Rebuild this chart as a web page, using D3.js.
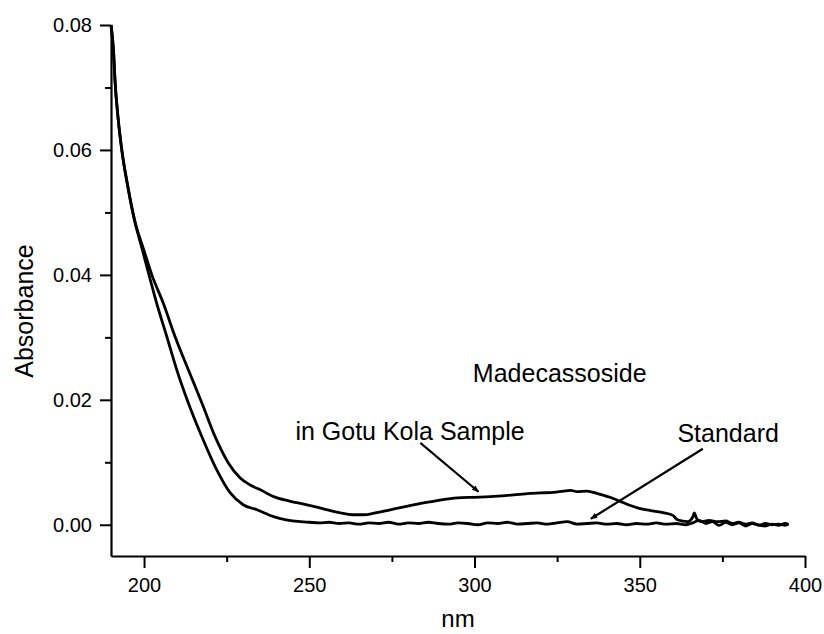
<!DOCTYPE html>
<html>
<head>
<meta charset="utf-8">
<script src="https://cdn.jsdelivr.net/npm/d3@7"></script>
<style>
  body { margin: 0; background: #fff; }
  text { font-family: "Liberation Sans", Arial, sans-serif; fill: #000; }
</style>
</head>
<body>
<div id="chart"></div>
<script>
// wavelength (nm) / absorbance readings, sample extract
var sampleNm = [190, 190.8, 191.2, 192.2, 193.4, 195.1, 197.1, 199.8, 202.5, 205.8,
  209.4, 213.4, 217.5, 221.5, 225.5, 229.1, 232, 235.2, 239.2, 244,
  249.3, 254, 259.4, 263, 266.5, 270, 274.5, 279, 284.6, 290,
  294.8, 300, 304.8, 310, 316, 320, 324, 327, 329.1, 331,
  334, 337.2, 341, 344.2, 349.3, 353, 357.4, 360, 361.4, 364.5,
  366, 366.5, 367.2, 368.5, 371, 373.5, 376, 378, 380, 382,
  384, 386, 388, 390, 392, 394, 395];
var sampleAbs = [0.0800, 0.0755, 0.0712, 0.0648, 0.0595, 0.0541, 0.0488, 0.0442, 0.0398, 0.0355,
  0.0301, 0.0248, 0.0195, 0.0141, 0.0099, 0.0075, 0.0064, 0.0056, 0.0045, 0.0038,
  0.0032, 0.0026, 0.0019, 0.0016, 0.0016, 0.0019, 0.0024, 0.0029, 0.0035, 0.0040,
  0.0043, 0.0044, 0.0045, 0.0047, 0.0050, 0.0051, 0.0052, 0.0054, 0.0055, 0.0053,
  0.0054, 0.0050, 0.0044, 0.0037, 0.0027, 0.0023, 0.0019, 0.0015, 0.0008, 0.0005,
  0.0012, 0.0019, 0.0010, 0.0005, 0.0007, 0.0005, 0.0006, 0.0002, 0.0004, 0.0001,
  0.0003, -0.0001, 0.0002, 0.0000, 0.0001, -0.0001, 0.0001];

// madecassoside standard
var standardNm = [190, 190.8, 191.2, 192.2, 193.4, 195.1, 197.1, 199.5, 202, 203.8,
  206.9, 209.9, 213.4, 217.5, 222, 226.1, 230, 234.2, 239.2, 243,
  247.3, 250, 253, 256, 259, 262, 265, 268, 271, 274,
  277, 280, 283, 286, 289, 292, 295, 298, 301, 304,
  307, 310, 313, 316, 319, 322, 325, 328, 331, 334,
  337, 340, 343, 346, 349, 352, 355, 358, 361, 364,
  366, 368, 370, 372, 374, 376, 378, 380, 382, 384,
  386, 388, 390, 392, 394, 395];
var standardAbs = [0.0800, 0.0755, 0.0712, 0.0648, 0.0595, 0.0541, 0.0488, 0.0440, 0.0390, 0.0355,
  0.0301, 0.0248, 0.0195, 0.0141, 0.0088, 0.0051, 0.0032, 0.0024, 0.0013, 0.0008,
  0.0005, 0.0004, 0.0003, 0.0004, 0.0002, 0.0003, 0.0001, 0.0003, 0.0002, 0.0004,
  0.0001, 0.0003, 0.0002, 0.0004, 0.0002, 0.0001, 0.0003, 0.0002, 0.0000, 0.0003,
  0.0002, 0.0004, 0.0001, 0.0002, 0.0003, 0.0001, 0.0003, 0.0005, 0.0001, 0.0002,
  0.0003, 0.0001, 0.0002, 0.0000, 0.0002, 0.0001, 0.0003, 0.0001, 0.0002, 0.0000,
  0.0003, 0.0007, 0.0002, 0.0005, -0.0001, 0.0004, 0.0000, 0.0003, -0.0002, 0.0002,
  0.0000, -0.0002, 0.0001, -0.0001, 0.0002, 0.0000];

var xTicks = [200, 250, 300, 350, 400];
var xMinorTicks = [225, 275, 325, 375];
var yTicks = [0.00, 0.02, 0.04, 0.06, 0.08];
var yMinorTicks = [0.01, 0.03, 0.05, 0.07];

// labels: text, anchor point (nm, abs)
var labelTexts = ['Madecassoside', 'in Gotu Kola Sample', 'Standard'];
var labelNm = [299.5, 245.8, 361.4];
var labelAbs = [0.0229, 0.0136, 0.01328];

// arrows: from (nm, abs) to (nm, abs)
var arrowFromNm = [283.6, 369.1];
var arrowFromAbs = [0.01312, 0.01216];
var arrowToNm = [301.2, 335.2];
var arrowToAbs = [0.00528, 0.00096];

function drawChart(divId) {
  var width = 824, height = 634;
  var margin = {left: 111, top: 25, right: 19, bottom: 78};

  var svg = d3.select(divId)
    .append('svg')
    .attr('width', width)
    .attr('height', height);

  var x = d3.scaleLinear().domain([190, 400]).range([margin.left, width - margin.right]);
  var y = d3.scaleLinear().domain([-0.005, 0.08]).range([height - margin.bottom, margin.top]);

  svg.append('defs').append('marker')
    .attr('id', 'head')
    .attr('viewBox', '0 0 10 10')
    .attr('refX', 9).attr('refY', 5)
    .attr('markerWidth', 9).attr('markerHeight', 7)
    .attr('markerUnits', 'userSpaceOnUse')
    .attr('orient', 'auto')
    .append('path')
    .attr('d', 'M0,1 L10,5 L0,9 Z')
    .attr('fill', '#000');

  // minor ticks first, major axes on top
  svg.append('g')
    .attr('transform', `translate(0,${y.range()[0]})`)
    .call(d3.axisBottom(x).tickValues(xMinorTicks).tickSize(6).tickFormat(''))
    .call(g => g.select('.domain').remove());
  svg.append('g')
    .attr('transform', `translate(${margin.left},0)`)
    .call(d3.axisLeft(y).tickValues(yMinorTicks).tickSize(6).tickFormat(''))
    .call(g => g.select('.domain').remove());

  svg.append('g')
    .attr('transform', `translate(0,${y.range()[0]})`)
    .call(d3.axisBottom(x).tickValues(xTicks).tickSize(12).tickSizeOuter(0).tickPadding(10)
      .tickFormat(d3.format('d')));
  svg.append('g')
    .attr('transform', `translate(${margin.left},0)`)
    .call(d3.axisLeft(y).tickValues(yTicks).tickSize(11).tickSizeOuter(0).tickPadding(8)
      .tickFormat(d3.format('.2f')));

  svg.selectAll('.tick line').attr('stroke', '#000').attr('stroke-width', 2);
  svg.selectAll('.domain').attr('stroke', '#000').attr('stroke-width', 2.2);
  svg.selectAll('.tick text')
    .style('font-family', '"Liberation Sans", Arial, sans-serif')
    .style('font-size', '20px')
    .attr('fill', '#000');

  var line = d3.line()
    .x(d => x(d[0]))
    .y(d => y(d[1]))
    .curve(d3.curveMonotoneX);

  var series = [
    d3.zip(standardNm, standardAbs),
    d3.zip(sampleNm, sampleAbs)
  ];

  svg.selectAll('.spectrum')
    .data(series)
    .enter()
    .append('path')
    .classed('spectrum', true)
    .attr('d', line)
    .attr('fill', 'none')
    .attr('stroke', '#000')
    .attr('stroke-width', 2.8)
    .attr('stroke-linejoin', 'round');

  // arrows
  svg.selectAll('.arrow')
    .data(d3.range(arrowFromNm.length))
    .enter()
    .append('line')
    .classed('arrow', true)
    .attr('x1', i => x(arrowFromNm[i]))
    .attr('y1', i => y(arrowFromAbs[i]))
    .attr('x2', i => x(arrowToNm[i]))
    .attr('y2', i => y(arrowToAbs[i]))
    .attr('stroke', '#000')
    .attr('stroke-width', 2.2)
    .attr('marker-end', 'url(#head)');

  svg.selectAll('.label')
    .data(labelTexts)
    .enter()
    .append('text')
    .classed('label', true)
    .attr('x', (d, i) => x(labelNm[i]))
    .attr('y', (d, i) => y(labelAbs[i]))
    .style('font-size', '25px')
    .text(d => d);

  // axis titles
  svg.append('text')
    .attr('x', (x.range()[0] + x.range()[1]) / 2)
    .attr('y', 627)
    .attr('text-anchor', 'middle')
    .style('font-size', '24px')
    .text('nm');

  svg.append('text')
    .attr('transform', 'translate(33,311) rotate(-90)')
    .attr('text-anchor', 'middle')
    .style('font-size', '25px')
    .text('Absorbance');
}

drawChart('#chart');
</script>
</body>
</html>
